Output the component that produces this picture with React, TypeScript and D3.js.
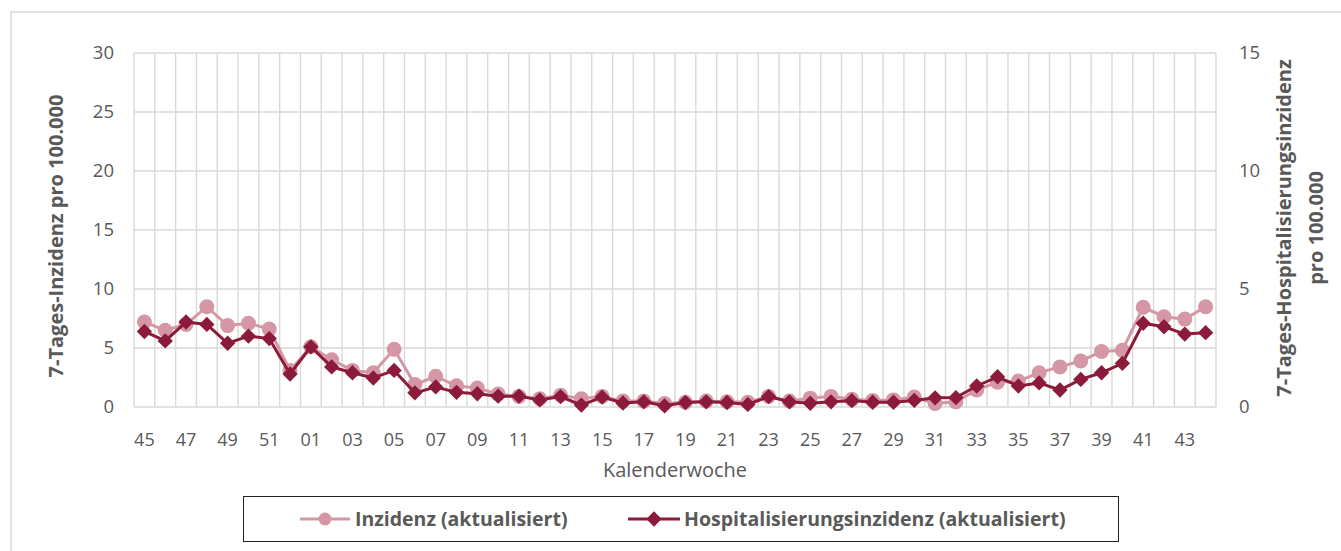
import { useEffect, useRef } from 'react';
import * as d3 from 'd3';

const weeks = [
  '45', '46', '47', '48', '49', '50', '51', '52',
  '01', '02', '03', '04', '05', '06', '07', '08', '09', '10',
  '11', '12', '13', '14', '15', '16', '17', '18', '19', '20',
  '21', '22', '23', '24', '25', '26', '27', '28', '29', '30',
  '31', '32', '33', '34', '35', '36', '37', '38', '39', '40',
  '41', '42', '43', '44',
];

// 7-Tages-Inzidenz (linke Achse)
const inzidenz = [
  7.2, 6.5, 7.0, 8.5, 6.9, 7.1, 6.6, 3.1,
  5.1, 4.0, 3.1, 2.9, 4.9, 1.9, 2.6, 1.8, 1.6, 1.1,
  0.9, 0.7, 1.0, 0.7, 0.9, 0.5, 0.5, 0.3, 0.4, 0.5,
  0.45, 0.4, 0.9, 0.5, 0.75, 0.9, 0.65, 0.55, 0.6, 0.85,
  0.3, 0.45, 1.45, 2.1, 2.2, 2.9, 3.4, 3.9, 4.7, 4.8,
  8.45, 7.65, 7.45, 8.5,
];

// 7-Tages-Hospitalisierungsinzidenz (rechte Achse)
const hosp = [
  3.2, 2.8, 3.6, 3.5, 2.7, 3.0, 2.9, 1.4,
  2.55, 1.7, 1.45, 1.23, 1.55, 0.6, 0.85, 0.62, 0.56, 0.46,
  0.46, 0.3, 0.44, 0.08, 0.42, 0.17, 0.22, 0.05, 0.19, 0.22,
  0.19, 0.11, 0.44, 0.22, 0.16, 0.22, 0.27, 0.2, 0.2, 0.28,
  0.39, 0.4, 0.89, 1.28, 0.89, 1.02, 0.72, 1.17, 1.45, 1.85,
  3.55, 3.4, 3.09, 3.15,
];

const leftTicks = [0, 5, 10, 15, 20, 25, 30];
const rightTicks = [0, 5, 10, 15];

const PINK = '#d597a5';
const DARK = '#8c1a3b';
const GRID = '#d9d9d9';
const TEXT = '#595959';
const FONT = '"Open Sans", sans-serif';

const App = () => {
  const svgRef = useRef<SVGSVGElement>(null);

  useEffect(() => {
    if (!svgRef.current) return;
    const svg = d3.select(svgRef.current);
    svg.selectAll('*').remove();

    const width = 1341;
    const height = 551;
    const plot = { left: 134, right: 1216, top: 53, bottom: 407 };

    svg.attr('width', width).attr('height', height);

    // outer chart frame
    svg.append('rect')
      .attr('x', 11).attr('y', 12)
      .attr('width', width).attr('height', height)
      .attr('fill', 'none')
      .attr('stroke', GRID)
      .attr('stroke-width', 1.5);

    const x = d3.scaleBand<string>()
      .domain(weeks)
      .range([plot.left, plot.right])
      .padding(0);
    const cx = (w: string) => (x(w) || 0) + x.bandwidth() / 2;

    const yL = d3.scaleLinear().domain([0, 30]).range([plot.bottom, plot.top]);
    const yR = d3.scaleLinear().domain([0, 15]).range([plot.bottom, plot.top]);

    // grid
    const grid = svg.append('g').attr('stroke', GRID).attr('stroke-width', 1.4);
    leftTicks.forEach(t => {
      grid.append('line')
        .attr('x1', plot.left).attr('x2', plot.right)
        .attr('y1', yL(t)).attr('y2', yL(t));
    });
    [...weeks.map(w => x(w) || 0), plot.right].forEach(px => {
      grid.append('line')
        .attr('x1', px).attr('x2', px)
        .attr('y1', plot.top).attr('y2', plot.bottom);
    });

    // left axis labels
    svg.append('g').selectAll('text')
      .data(leftTicks)
      .enter()
      .append('text')
      .attr('x', 114)
      .attr('y', d => yL(d))
      .attr('dy', '0.35em')
      .attr('text-anchor', 'end')
      .attr('fill', TEXT)
      .attr('font-family', FONT)
      .attr('font-size', 18.5)
      .text(d => d);

    // right axis labels
    svg.append('g').selectAll('text')
      .data(rightTicks)
      .enter()
      .append('text')
      .attr('x', 1239)
      .attr('y', d => yR(d))
      .attr('dy', '0.35em')
      .attr('text-anchor', 'start')
      .attr('fill', TEXT)
      .attr('font-family', FONT)
      .attr('font-size', 18.5)
      .text(d => d);

    // x labels (every second week)
    svg.append('g').selectAll('text')
      .data(weeks.filter((_, i) => i % 2 === 0))
      .enter()
      .append('text')
      .attr('x', d => cx(d))
      .attr('y', 440)
      .attr('dy', '0.35em')
      .attr('text-anchor', 'middle')
      .attr('fill', TEXT)
      .attr('font-family', FONT)
      .attr('font-size', 18)
      .text(d => d);

    svg.append('text')
      .attr('x', 675).attr('y', 470)
      .attr('dy', '0.35em')
      .attr('text-anchor', 'middle')
      .attr('fill', TEXT)
      .attr('font-family', FONT)
      .attr('font-size', 20)
      .text('Kalenderwoche');

    // axis titles
    svg.append('text')
      .attr('transform', 'translate(56,236) rotate(-90)')
      .attr('dy', '0.35em')
      .attr('text-anchor', 'middle')
      .attr('fill', TEXT)
      .attr('font-family', FONT)
      .attr('font-weight', 700)
      .attr('font-size', 20)
      .text('7-Tages-Inzidenz pro 100.000');

    const rt = svg.append('text')
      .attr('transform', 'translate(1300,228) rotate(-90)')
      .attr('text-anchor', 'middle')
      .attr('fill', TEXT)
      .attr('font-family', FONT)
      .attr('font-weight', 700)
      .attr('font-size', 20);
    rt.append('tspan').attr('x', 0).attr('dy', -9).text('7-Tages-Hospitalisierungsinzidenz');
    rt.append('tspan').attr('x', 0).attr('dy', 32).text('pro 100.000');

    // series
    const lineL = d3.line<number>().x((_, i) => cx(weeks[i])).y(d => yL(d));
    const lineR = d3.line<number>().x((_, i) => cx(weeks[i])).y(d => yR(d));

    svg.append('path')
      .datum(inzidenz)
      .attr('d', lineL)
      .attr('fill', 'none')
      .attr('stroke', PINK)
      .attr('stroke-width', 3);
    svg.append('g').selectAll('circle')
      .data(inzidenz)
      .enter()
      .append('circle')
      .attr('cx', (_, i) => cx(weeks[i]))
      .attr('cy', d => yL(d))
      .attr('r', 7.5)
      .attr('fill', PINK);

    const diamond = d3.symbol().type(d3.symbolDiamond2).size(150);

    svg.append('path')
      .datum(hosp)
      .attr('d', lineR)
      .attr('fill', 'none')
      .attr('stroke', DARK)
      .attr('stroke-width', 3);
    svg.append('g').selectAll('path')
      .data(hosp)
      .enter()
      .append('path')
      .attr('d', diamond)
      .attr('transform', (d, i) => `translate(${cx(weeks[i])},${yR(d)})`)
      .attr('fill', DARK);

    // legend
    const lg = svg.append('g');
    lg.append('rect')
      .attr('x', 243.5).attr('y', 496.5)
      .attr('width', 875).attr('height', 45)
      .attr('fill', '#fff')
      .attr('stroke', '#222')
      .attr('stroke-width', 1);
    const ly = 519;
    lg.append('line').attr('x1', 300).attr('x2', 350).attr('y1', ly).attr('y2', ly)
      .attr('stroke', PINK).attr('stroke-width', 3);
    lg.append('circle').attr('cx', 325).attr('cy', ly).attr('r', 6.5).attr('fill', PINK);
    lg.append('text').attr('x', 355).attr('y', ly).attr('dy', '0.35em')
      .attr('fill', TEXT).attr('font-family', FONT).attr('font-weight', 700).attr('font-size', 19.5)
      .text('Inzidenz (aktualisiert)');
    lg.append('line').attr('x1', 628).attr('x2', 680).attr('y1', ly).attr('y2', ly)
      .attr('stroke', DARK).attr('stroke-width', 3);
    lg.append('path').attr('d', diamond).attr('transform', `translate(654,${ly})`).attr('fill', DARK);
    lg.append('text').attr('x', 684).attr('y', ly).attr('dy', '0.35em')
      .attr('fill', TEXT).attr('font-family', FONT).attr('font-weight', 700).attr('font-size', 19.5)
      .text('Hospitalisierungsinzidenz (aktualisiert)');
  }, []);

  return (
    <svg ref={svgRef} style={{ position: 'absolute', left: 0, top: 0, display: 'block' }} />
  );
};

export default App;
